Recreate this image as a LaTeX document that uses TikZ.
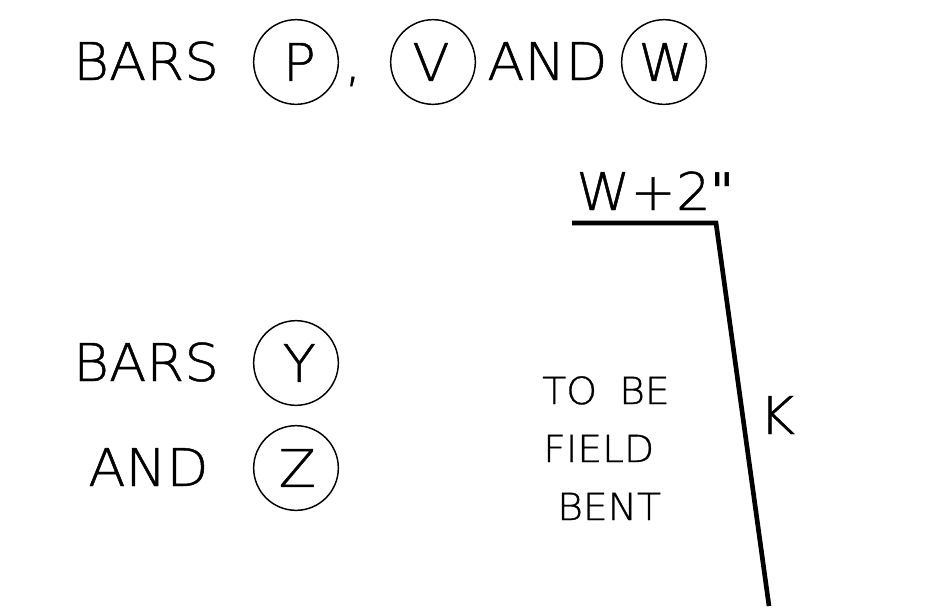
\documentclass[tikz,border=0pt]{standalone}
\usepackage{fontspec}
\setmainfont[FakeBold=0.9,FakeStretch=1.05]{DejaVu Sans ExtraLight}
\newfontfamily\quotefont{DejaVu Sans}
\tikzset{
  barcircle/.style={circle,draw,line width=1.1pt,minimum size=63.5pt,inner sep=0pt,font=\fontsize{39}{39}\selectfont},
  biglabel/.style={inner sep=0pt,font=\fontsize{39}{39}\selectfont},
  smalllabel/.style={inner sep=0pt,anchor=base west,font=\fontsize{28}{28}\selectfont},
  barline/.style={line width=3.5pt}
}
\begin{document}
\begin{tikzpicture}[x=0.75pt,y=-0.75pt]
  \useasboundingbox (0,0) rectangle (934,615);
  % Top row
  \node[biglabel,anchor=base west] (bars1) at (73,80) {BARS};
  \node[barcircle] (p) at (296,62) {\kern5pt P};
  \node[biglabel,anchor=base west] (comma) at (344,80) {,};
  \node[barcircle] (v) at (433,62) {V\kern3pt};
  \node[biglabel,anchor=base west] (and1) at (487,80) {AND};
  \node[barcircle] (w) at (664,62) {\kern2pt W};

  % Left rows
  \node[biglabel,anchor=base west] (bars2) at (73,381) {BARS};
  \node[barcircle] (y) at (296,363) {\kern5pt Y};
  \node[biglabel,anchor=base west] (and2) at (88,486) {AND};
  \node[barcircle] (z) at (296,468) {\kern2pt Z};

  % Bent bar
  \node[biglabel,anchor=base west] (width) at (576,210) {W+2{\quotefont\char34}};
  \coordinate (barstart) at (572,223);
  \coordinate (barbend) at (716,223);
  \coordinate (barend) at (769,606);
  \draw[barline,line join=miter] (barstart) -- (barbend) -- (barend);
  \node[biglabel,anchor=base west] (k) at (759,434) {K};

  % Note
  \node[smalllabel] (tobe) at (542,404) {TO};
  \node[smalllabel] (tobe2) at (619,404) {BE};
  \node[smalllabel] (field) at (543,462) {FIELD};
  \node[smalllabel] (bent) at (557,520) {BENT};
\end{tikzpicture}
\end{document}
